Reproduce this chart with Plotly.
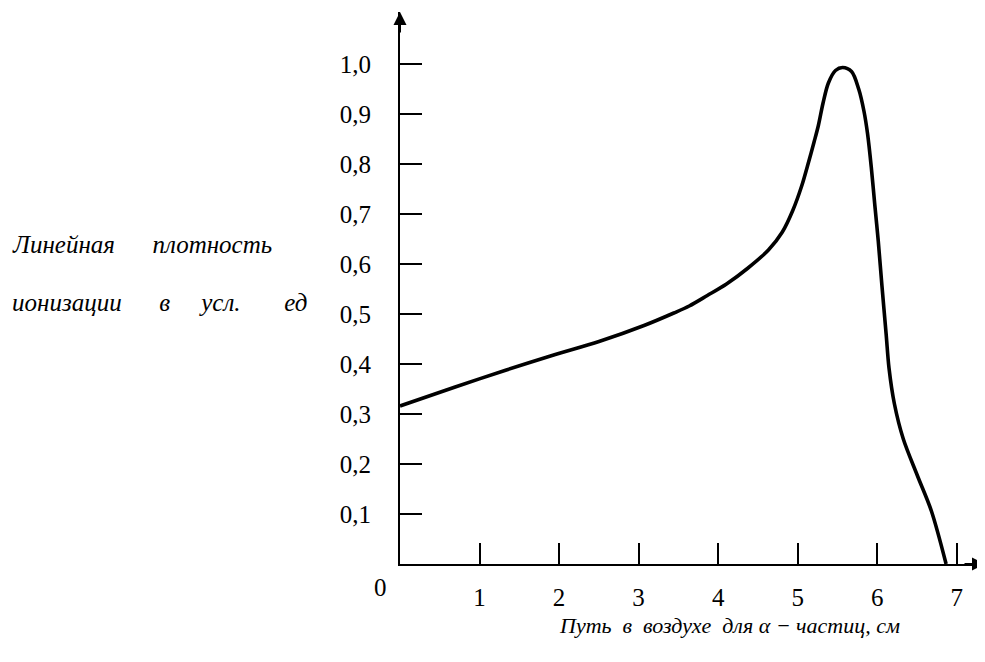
import plotly.graph_objects as go

# Path of alpha-particles in air, cm
path_cm = [0.0, 0.694, 1.337, 1.932, 2.502, 3.068, 3.443, 3.636, 3.864, 4.105,
           4.368, 4.632, 4.807, 4.938, 5.050, 5.139, 5.206, 5.260, 5.319, 5.386,
           5.475, 5.565, 5.677, 5.767, 5.834, 5.879, 5.925, 5.969, 6.013, 6.059,
           6.113, 6.148, 6.215, 6.328, 6.507, 6.681, 6.866]
# Linear ionization density, arbitrary units
density = [0.316, 0.354, 0.388, 0.418, 0.445, 0.477, 0.502, 0.516, 0.537, 0.560,
           0.591, 0.628, 0.664, 0.707, 0.756, 0.805, 0.844, 0.877, 0.922, 0.962,
           0.987, 0.993, 0.985, 0.950, 0.905, 0.860, 0.794, 0.719, 0.646, 0.557,
           0.458, 0.392, 0.321, 0.250, 0.176, 0.106, 0.0]

y_tick_vals = [0.1, 0.2, 0.3, 0.4, 0.5, 0.6, 0.7, 0.8, 0.9, 1.0]
y_tick_text = ["0,1", "0,2", "0,3", "0,4", "0,5", "0,6", "0,7", "0,8", "0,9", "1,0"]
x_tick_vals = [1, 2, 3, 4, 5, 6, 7]
x_tick_text = ["1", "2", "3", "4", "5", "6", "7"]

NB = "\u00a0"
x_title = "Путь" + NB + " в" + NB + " воздухе" + NB + " для α − частиц, см"
y_title_1 = "Линейная" + NB * 5 + " плотность"
y_title_2 = "ионизации" + NB * 5 + " в" + NB * 4 + " усл." + NB * 6 + " ед"
origin_label = "0"

SERIF = "Liberation Serif, Times New Roman, serif"
X_MAX = 7.355
Y_MAX = 1.104

fig = go.Figure()
fig.add_trace(go.Scatter(
    x=path_cm, y=density, mode="lines",
    line=dict(color="black", width=3.6, shape="spline", smoothing=0.9),
    hoverinfo="skip", showlegend=False,
))

# the page body adds an 8px margin; size the figure so it fills the window exactly
fig.update_layout(
    width=977, height=654,
    margin=dict(l=392, r=0, t=4, b=98, pad=0),
    paper_bgcolor="white", plot_bgcolor="white",
    showlegend=False,
    xaxis=dict(
        range=[0, X_MAX], showline=True, linecolor="black", linewidth=2,
        ticks="inside", ticklen=21, tickwidth=2, tickcolor="black",
        tickvals=x_tick_vals, ticktext=x_tick_text,
        tickfont=dict(family=SERIF, size=25, color="black"),
        ticklabelstandoff=10,
        showgrid=False, zeroline=False,
    ),
    yaxis=dict(
        range=[0, Y_MAX], showline=True, linecolor="black", linewidth=2,
        ticks="inside", ticklen=22, tickwidth=2, tickcolor="black",
        tickvals=y_tick_vals, ticktext=y_tick_text,
        tickfont=dict(family=SERIF, size=25, color="black"),
        ticklabelstandoff=22,
        showgrid=False, zeroline=False,
    ),
)

# axis arrows
fig.add_annotation(x=0, y=Y_MAX, xref="x", yref="y", ax=0, ay=22,
                   axref="pixel", ayref="pixel", text="", showarrow=True,
                   arrowhead=2, arrowsize=1.3, arrowwidth=2, arrowcolor="black")
fig.add_annotation(x=X_MAX, y=0, xref="x", yref="y", ax=-22, ay=0,
                   axref="pixel", ayref="pixel", text="", showarrow=True,
                   arrowhead=2, arrowsize=1.3, arrowwidth=2, arrowcolor="black")

# origin label
fig.add_annotation(x=-0.033, y=-0.043, xref="paper", yref="paper",
                   text=origin_label, showarrow=False, xanchor="center", yanchor="middle",
                   font=dict(family=SERIF, size=25, color="black"))

# axis titles
fig.add_annotation(x=0.564, y=-0.111, xref="paper", yref="paper",
                   text="<i>" + x_title + "</i>", showarrow=False,
                   xanchor="center", yanchor="middle",
                   font=dict(family=SERIF, size=22, color="black"))
fig.add_annotation(x=-0.667, y=0.578, xref="paper", yref="paper",
                   text="<i>" + y_title_1 + "</i>", showarrow=False,
                   xanchor="left", yanchor="middle",
                   font=dict(family=SERIF, size=25, color="black"))
fig.add_annotation(x=-0.667, y=0.473, xref="paper", yref="paper",
                   text="<i>" + y_title_2 + "</i>", showarrow=False,
                   xanchor="left", yanchor="middle",
                   font=dict(family=SERIF, size=25, color="black"))

fig.write_html("out.html")
